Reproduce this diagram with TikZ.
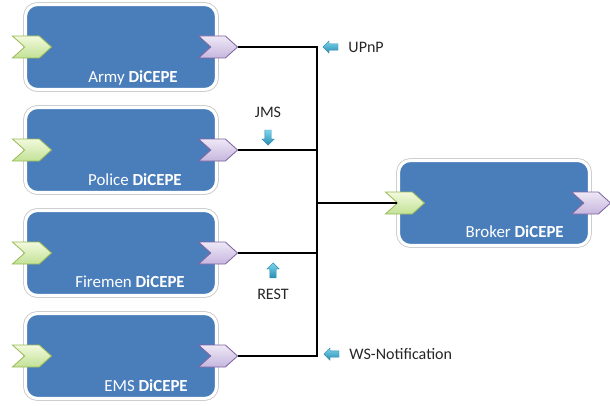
\documentclass[tikz,border=0pt]{standalone}
\usepackage{fontspec}
\setmainfont{Carlito}
\usetikzlibrary{shapes.symbols,shapes.arrows,positioning}
\definecolor{BoxBlue}{HTML}{4A7EBB}
\definecolor{InTop}{HTML}{F2F9DC}
\definecolor{InBottom}{HTML}{C2E296}
\definecolor{InEdge}{HTML}{9BBB59}
\definecolor{OutTop}{HTML}{EEE8F6}
\definecolor{OutBottom}{HTML}{C6B6DE}
\definecolor{OutEdge}{HTML}{8064A2}
\definecolor{FlowTop}{HTML}{7AD6EE}
\definecolor{FlowBottom}{HTML}{2A8CB2}
\definecolor{FlowEdge}{HTML}{2F86A6}

\begin{document}
\begin{tikzpicture}[
  box/.style={rounded corners=0.3cm, fill=BoxBlue, draw=white, line width=2.2pt,
    minimum width=4.775cm, minimum height=2.125cm,
    preaction={draw=black!22, line width=3.4pt}},
  port/.style={signal, signal to=east, signal from=west, signal pointer angle=84,
    minimum width=0.975cm, minimum height=0.55cm, inner sep=0pt, line width=0.6pt},
  inport/.style={port, draw=InEdge, top color=InTop, bottom color=InBottom},
  outport/.style={port, draw=OutEdge, top color=OutTop, bottom color=OutBottom},
  title/.style={text=white, font=\fontsize{12}{14}\selectfont, anchor=base east, inner sep=0pt},
  proto/.style={text=black!85, font=\fontsize{11.4}{13}\selectfont, inner sep=0pt},
  flow/.style={single arrow, inner sep=0.075cm, single arrow head extend=0.075cm,
    minimum height=0.38cm, draw=FlowEdge, line width=0.3pt,
    top color=FlowTop, bottom color=FlowBottom},
  link/.style={line width=1.2pt}
  ]
       \useasboundingbox(0,0)rectangle(15.25,10.125);
       \node[box](Army)at(3.025,8.95){};
       \node[box](Police)at(3.025,6.375){};
       \node[box](Firemen)at(3.025,3.8){};
       \node[box](Ems)at(3.025,1.225){};
       \node[box](Broker)at(12.35,5.05){};
       \node[title](ArmyTitle)at(4.45,8.075){Army \textbf{DiCEPE}};
       \node[title](PoliceTitle)at(4.55,5.5){Police \textbf{DiCEPE}};
       \node[title](FiremenTitle)at(4.625,2.93){Firemen \textbf{DiCEPE}};
       \node[title](EmsTitle)at(4.7,0.33){EMS \textbf{DiCEPE}};
       \node[title](BrokerTitle)at(14.1,4.19){Broker \textbf{DiCEPE}};
       \node[inport](ArmyIn)at([xshift=0.2cm]Army.west){};
       \node[inport](PoliceIn)at([xshift=0.2cm]Police.west){};
       \node[inport](FiremenIn)at([xshift=0.2cm]Firemen.west){};
       \node[inport](EmsIn)at([xshift=0.2cm]Ems.west){};
       \node[inport](BrokerIn)at([xshift=0.2cm]Broker.west){};
       \node[outport](ArmyOut)at(Army.east){};
       \node[outport](PoliceOut)at(Police.east){};
       \node[outport](FiremenOut)at(Firemen.east){};
       \node[outport](EmsOut)at(Ems.east){};
       \node[outport](BrokerOut)at(Broker.east){};
       \coordinate(Hub)at(7.925,5.05);
       \draw[link](ArmyOut.east)-|(Hub);
       \draw[link](EmsOut.east)-|(Hub);
       \draw[link](PoliceOut.east)--(PoliceOut.east-|Hub);
       \draw[link](FiremenOut.east)--(FiremenOut.east-|Hub);
       \draw[link](Hub)--(BrokerIn.west);
       \node[flow, shape border rotate=180](UpnpFlow)at(8.3,8.95){};
       \node[proto, right=0.25cm of UpnpFlow](Upnp){UPnP};
       \node[flow, shape border rotate=270](JmsFlow)at(6.7,6.725){};
       \node[proto, above=0.3cm of JmsFlow](Jms){JMS};
       \node[flow, shape border rotate=90](RestFlow)at(6.825,3.325){};
       \node[proto, below=0.27cm of RestFlow](Rest){REST};
       \node[flow, shape border rotate=180](WsFlow)at(8.325,1.275){};
       \node[proto, right=0.25cm of WsFlow](Ws){WS-Notification};
      \end{tikzpicture}
\end{document}
